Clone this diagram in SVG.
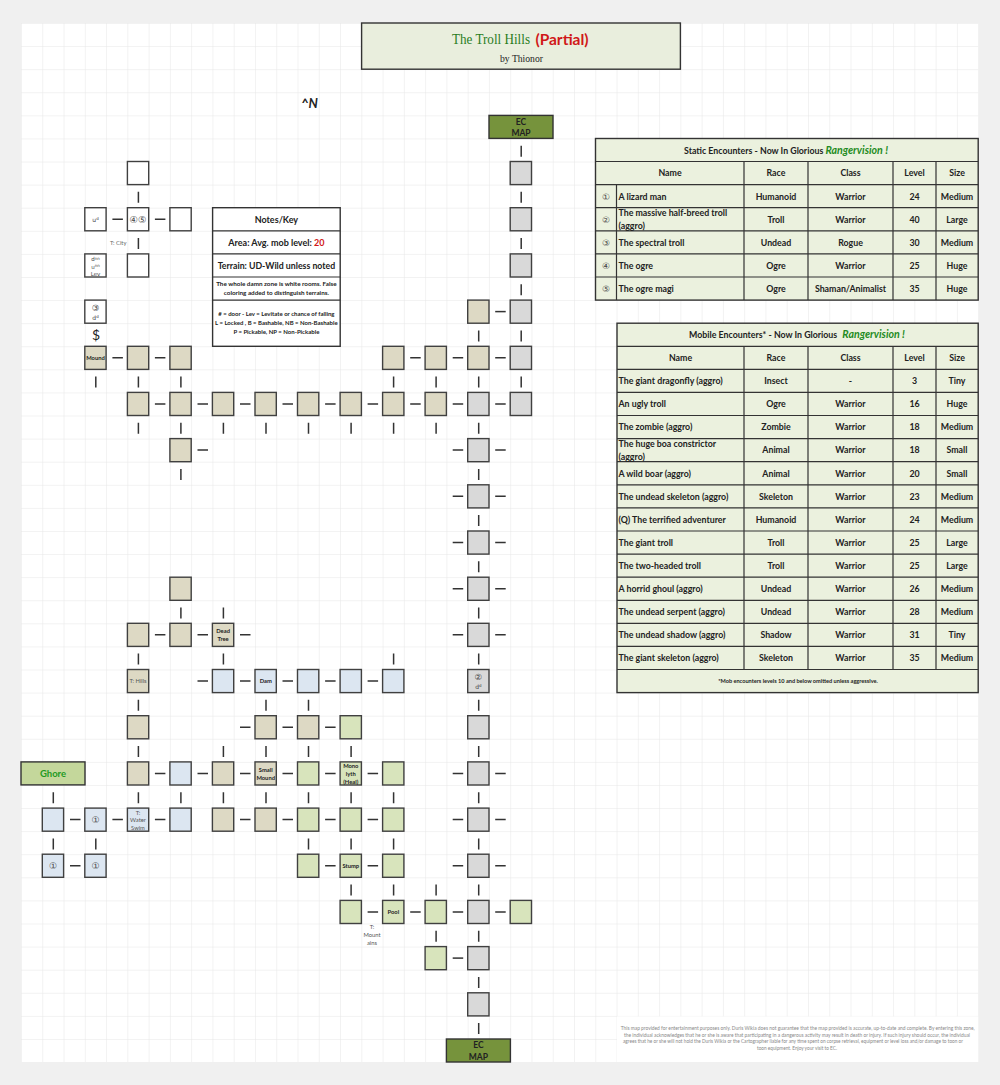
<svg xmlns="http://www.w3.org/2000/svg" width="1000" height="1085" viewBox="0 0 1000 1085">
<style>
text{font-family:Lato,"Liberation Sans","Noto Sans CJK SC",sans-serif;font-weight:700;fill:#222;font-size:8.8px}
.m{text-anchor:middle}
.room{stroke:#404040;stroke-width:1.4}
.w{fill:#fff}.t{fill:#ddd9c4}.g{fill:#d9d9d9}.b{fill:#dce6f1}.v{fill:#d8e4bc}
.ec{fill:#76933c;stroke:#333;stroke-width:1.4}
.gh{fill:#c4d79b;stroke:#333;stroke-width:1.4}
.box{stroke:#333;stroke-width:1.4;fill:#ebf1de}
.nb{stroke:#333;stroke-width:1.4;fill:#fff}
.ln{stroke:#333;stroke-width:1.2;fill:none}
.cn path{stroke:#333;stroke-width:1.5;fill:none}
.rl{font-size:5.8px}
.tl{font-size:5.8px;font-weight:400;fill:#555}
.ci{font-family:"DejaVu Sans","Noto Sans CJK SC",sans-serif;font-weight:400;fill:#444}
.sp{font-size:5.5px}
.hd{font-family:"Liberation Serif",serif;font-weight:400}
.rv{font-style:italic;fill:#228b22;font-size:10.6px}
.red{fill:#d01818}
.fine{font-size:5px;font-weight:400;fill:#888}
</style>
<defs>
<pattern id="grid" patternUnits="userSpaceOnUse" x="21" y="23" width="21.27" height="23.09"><path d="M21.27 0H0V23.09" fill="none" stroke="#e6e6e6" stroke-width="1"/></pattern>
</defs>
<rect width="1000" height="1085" fill="#f0f0f0"/>
<rect x="21" y="23" width="957.2" height="1039" fill="#fff"/>
<rect x="21" y="23" width="957.2" height="1039" fill="url(#grid)"/>
<rect x="617" y="1016.5" width="361.2" height="45.5" fill="#fff"/>

<g id="connectors" class="cn">
<path d="M112.4 219.2h10.5M154.9 219.2h10.5"/>
<path d="M495.2 311.6h10.5"/>
<path d="M112.4 357.8h10.5M154.9 357.8h10.5M410.2 357.8h10.5M452.7 357.8h10.5M495.2 357.8h10.5"/>
<path d="M154.9 403.9h10.5M197.5 403.9h10.5M240 403.9h10.5M282.5 403.9h10.5M325.1 403.9h10.5M367.6 403.9h10.5M410.2 403.9h10.5M452.7 403.9h10.5M495.2 403.9h10.5"/>
<path d="M197.5 450.1h10.5M452.7 450.1h10.5M495.2 450.1h10.5"/>
<path d="M452.7 496.3h10.5M495.2 496.3h10.5"/>
<path d="M452.7 542.5h10.5M495.2 542.5h10.5"/>
<path d="M452.7 588.7h10.5M495.2 588.7h10.5"/>
<path d="M154.9 634.8h10.5M197.5 634.8h10.5M240 634.8h10.5M452.7 634.8h10.5M495.2 634.8h10.5"/>
<path d="M197.5 681h10.5M240 681h10.5M282.5 681h10.5M325.1 681h10.5M367.6 681h10.5"/>
<path d="M240 727.2h10.5M282.5 727.2h10.5M325.1 727.2h10.5"/>
<path d="M154.9 773.4h10.5M197.5 773.4h10.5M240 773.4h10.5M282.5 773.4h10.5M325.1 773.4h10.5M367.6 773.4h10.5M452.7 773.4h10.5M495.2 773.4h10.5"/>
<path d="M70 819.6h10.5M112.4 819.6h10.5M154.9 819.6h10.5M240 819.6h10.5M282.5 819.6h10.5M325.1 819.6h10.5M367.6 819.6h10.5M452.7 819.6h10.5M495.2 819.6h10.5"/>
<path d="M70 865.7h10.5M325.1 865.7h10.5M367.6 865.7h10.5M452.7 865.7h10.5M495.2 865.7h10.5"/>
<path d="M367.6 911.9h10.5M410.2 911.9h10.5M452.7 911.9h10.5M495.2 911.9h10.5"/>
<path d="M452.7 958.1h10.5"/>
<path d="M521.2 145.7v11M138.4 191.8v11M521.2 191.8v11M138.4 238v11M521.2 238v11M521.2 284.2v11M478.7 330.4v11M521.2 330.4v11"/>
<path d="M95.8 376.6v11M138.4 376.6v11M180.9 376.6v11M393.6 376.6v11M436.1 376.6v11M478.7 376.6v11M521.2 376.6v11"/>
<path d="M138.4 422.7v11M180.9 422.7v11M223.4 422.7v11M266 422.7v11M308.5 422.7v11M351.1 422.7v11M393.6 422.7v11M436.1 422.7v11M478.7 422.7v11"/>
<path d="M180.9 468.9v11M478.7 468.9v11M478.7 515.1v11M478.7 561.3v11"/>
<path d="M180.9 607.5v11M223.4 607.5v11M478.7 607.5v11"/>
<path d="M138.4 653.6v11M223.4 653.6v11M393.6 653.6v11M478.7 653.6v11"/>
<path d="M138.4 699.8v11M266 699.8v11M308.5 699.8v11M478.7 699.8v11"/>
<path d="M138.4 746v11M223.4 746v11M266 746v11M308.5 746v11M351.1 746v11M478.7 746v11"/>
<path d="M53.3 792.2v11M138.4 792.2v11M180.9 792.2v11M223.4 792.2v11M266 792.2v11M308.5 792.2v11M351.1 792.2v11M393.6 792.2v11M478.7 792.2v11"/>
<path d="M53.3 838.4v11M95.8 838.4v11M308.5 838.4v11M351.1 838.4v11M393.6 838.4v11M478.7 838.4v11"/>
<path d="M351.1 884.5v11M393.6 884.5v11M436.1 884.5v11M478.7 884.5v11M436.1 930.7v11M478.7 930.7v11M478.7 976.9v11M478.7 1023.1v11"/>
</g>

<g id="title"><rect class="box" x="361.6" y="23" width="318.8" height="46.2" style="fill:#e9eedd"/>
<text class="m hd" x="491" y="44" textLength="78" lengthAdjust="spacingAndGlyphs" style="fill:#2a7d1e;font-size:15px">The Troll Hills</text>
<text class="m" x="562" y="44.5" style="fill:#d01818;font-size:15.5px">(Partial)</text>
<text class="m hd" x="521.5" y="62" textLength="43" lengthAdjust="spacingAndGlyphs" style="font-size:11px">by Thionor</text></g>
<text id="north" x="301" y="108" style="font-size:13px;font-style:italic">^N</text>
<text id="city" class="tl" x="110" y="245" style="fill:#666">T: City</text>
<text id="dollar" class="m" x="96" y="340" style="font-size:14px;font-weight:400">$</text>
<text id="mountains" class="tl m" x="372" y="929">T:<tspan x="372" dy="8">Mount</tspan><tspan x="372" dy="8">ains</tspan></text>

<g id="ec-top"><rect class="ec" x="489" y="115.4" width="64" height="23"/><text class="m" x="521" y="124.5" style="font-size:8.5px">EC</text><text class="m" x="521" y="136" style="font-size:8.5px">MAP</text></g>
<g id="ec-bottom"><rect class="ec" x="446.4" y="1039" width="64" height="23"/><text class="m" x="478.4" y="1048" style="font-size:8.5px">EC</text><text class="m" x="478.4" y="1059.5" style="font-size:8.5px">MAP</text></g>
<g id="ghore"><rect class="gh" x="21" y="761.9" width="64" height="23"/><text class="m" x="53" y="777" style="fill:#1f9a1f;font-size:9.5px">Ghore</text></g>

<g id="n5-6"><rect class="room w" x="127.4" y="161.5" width="21.3" height="23.1"/></g>
<g id="n23-6"><rect class="room g" x="510.2" y="161.5" width="21.3" height="23.1"/></g>
<g id="n3-8"><rect class="room w" x="84.8" y="207.7" width="21.3" height="23.1"/><text class="m ci" x="95.5" y="221.5" style="font-size:6px">u<tspan class="sp" dy="-2" style="font-size:4px">d</tspan></text></g>
<g id="n5-8"><rect class="room w" x="127.4" y="207.7" width="21.3" height="23.1"/><text class="m ci" x="138" y="222.8" style="font-size:9.5px">④⑤</text></g>
<g id="n7-8"><rect class="room w" x="169.9" y="207.7" width="21.3" height="23.1"/></g>
<g id="n23-8"><rect class="room g" x="510.2" y="207.7" width="21.3" height="23.1"/></g>
<g id="n3-10"><rect class="room w" x="84.8" y="253.9" width="21.3" height="23.1"/><text class="m ci" x="95.5" y="261" style="font-size:5.5px">d<tspan dy="-1.5" style="font-size:4px">nn</tspan></text><text class="m ci" x="95.5" y="268.5" style="font-size:5.5px">u<tspan dy="-1.5" style="font-size:4px">nn</tspan></text><text class="m ci" x="95.5" y="276" style="font-size:5.5px">Lev</text></g>
<g id="n5-10"><rect class="room w" x="127.4" y="253.9" width="21.3" height="23.1"/></g>
<g id="n23-10"><rect class="room g" x="510.2" y="253.9" width="21.3" height="23.1"/></g>
<g id="n3-12"><rect class="room w" x="84.8" y="300.1" width="21.3" height="23.1"/><text class="m ci" x="95.5" y="311" style="font-size:8.5px">③</text><text class="m ci" x="95.5" y="319.5" style="font-size:6px">d<tspan dy="-2" style="font-size:4px">d</tspan></text></g>
<g id="n21-12"><rect class="room t" x="467.7" y="300.1" width="21.3" height="23.1"/></g>
<g id="n23-12"><rect class="room g" x="510.2" y="300.1" width="21.3" height="23.1"/></g>
<g id="n3-14"><rect class="room t" x="84.8" y="346.3" width="21.3" height="23.1"/><text class="m rl" x="95.5" y="360">Mound</text></g>
<g id="n5-14"><rect class="room t" x="127.4" y="346.3" width="21.3" height="23.1"/></g>
<g id="n7-14"><rect class="room t" x="169.9" y="346.3" width="21.3" height="23.1"/></g>
<g id="n17-14"><rect class="room t" x="382.6" y="346.3" width="21.3" height="23.1"/></g>
<g id="n19-14"><rect class="room t" x="425.1" y="346.3" width="21.3" height="23.1"/></g>
<g id="n21-14"><rect class="room t" x="467.7" y="346.3" width="21.3" height="23.1"/></g>
<g id="n23-14"><rect class="room g" x="510.2" y="346.3" width="21.3" height="23.1"/></g>
<g id="n5-16"><rect class="room t" x="127.4" y="392.4" width="21.3" height="23.1"/></g>
<g id="n7-16"><rect class="room t" x="169.9" y="392.4" width="21.3" height="23.1"/></g>
<g id="n9-16"><rect class="room t" x="212.4" y="392.4" width="21.3" height="23.1"/></g>
<g id="n11-16"><rect class="room t" x="255" y="392.4" width="21.3" height="23.1"/></g>
<g id="n13-16"><rect class="room t" x="297.5" y="392.4" width="21.3" height="23.1"/></g>
<g id="n15-16"><rect class="room t" x="340.1" y="392.4" width="21.3" height="23.1"/></g>
<g id="n17-16"><rect class="room t" x="382.6" y="392.4" width="21.3" height="23.1"/></g>
<g id="n19-16"><rect class="room t" x="425.1" y="392.4" width="21.3" height="23.1"/></g>
<g id="n21-16"><rect class="room g" x="467.7" y="392.4" width="21.3" height="23.1"/></g>
<g id="n23-16"><rect class="room g" x="510.2" y="392.4" width="21.3" height="23.1"/></g>
<g id="n7-18"><rect class="room t" x="169.9" y="438.6" width="21.3" height="23.1"/></g>
<g id="n21-18"><rect class="room g" x="467.7" y="438.6" width="21.3" height="23.1"/></g>
<g id="n21-20"><rect class="room g" x="467.7" y="484.8" width="21.3" height="23.1"/></g>
<g id="n21-22"><rect class="room g" x="467.7" y="531" width="21.3" height="23.1"/></g>
<g id="n7-24"><rect class="room t" x="169.9" y="577.2" width="21.3" height="23.1"/></g>
<g id="n21-24"><rect class="room g" x="467.7" y="577.2" width="21.3" height="23.1"/></g>
<g id="n5-26"><rect class="room t" x="127.4" y="623.3" width="21.3" height="23.1"/></g>
<g id="n7-26"><rect class="room t" x="169.9" y="623.3" width="21.3" height="23.1"/></g>
<g id="n9-26"><rect class="room t" x="212.4" y="623.3" width="21.3" height="23.1"/><text class="m rl" x="223.1" y="633">Dead</text><text class="m rl" x="223.1" y="641">Tree</text></g>
<g id="n21-26"><rect class="room g" x="467.7" y="623.3" width="21.3" height="23.1"/></g>
<g id="n5-28"><rect class="room t" x="127.4" y="669.5" width="21.3" height="23.1"/><text class="m tl" x="138" y="683">T: Hills</text></g>
<g id="n9-28"><rect class="room b" x="212.4" y="669.5" width="21.3" height="23.1"/></g>
<g id="n11-28"><rect class="room b" x="255" y="669.5" width="21.3" height="23.1"/><text class="m rl" x="265.7" y="683">Dam</text></g>
<g id="n13-28"><rect class="room b" x="297.5" y="669.5" width="21.3" height="23.1"/></g>
<g id="n15-28"><rect class="room b" x="340.1" y="669.5" width="21.3" height="23.1"/></g>
<g id="n17-28"><rect class="room b" x="382.6" y="669.5" width="21.3" height="23.1"/></g>
<g id="n21-28"><rect class="room g" x="467.7" y="669.5" width="21.3" height="23.1"/><text class="m ci" x="478.4" y="680.3" style="font-size:8.5px">②</text><text class="m ci" x="478.4" y="689" style="font-size:6px">d<tspan dy="-2" style="font-size:4px">d</tspan></text></g>
<g id="n5-30"><rect class="room t" x="127.4" y="715.7" width="21.3" height="23.1"/></g>
<g id="n11-30"><rect class="room t" x="255" y="715.7" width="21.3" height="23.1"/></g>
<g id="n13-30"><rect class="room t" x="297.5" y="715.7" width="21.3" height="23.1"/></g>
<g id="n15-30"><rect class="room v" x="340.1" y="715.7" width="21.3" height="23.1"/></g>
<g id="n21-30"><rect class="room g" x="467.7" y="715.7" width="21.3" height="23.1"/></g>
<g id="n5-32"><rect class="room t" x="127.4" y="761.9" width="21.3" height="23.1"/></g>
<g id="n7-32"><rect class="room b" x="169.9" y="761.9" width="21.3" height="23.1"/></g>
<g id="n9-32"><rect class="room t" x="212.4" y="761.9" width="21.3" height="23.1"/></g>
<g id="n11-32"><rect class="room t" x="255" y="761.9" width="21.3" height="23.1"/><text class="m rl" x="265.7" y="771.7">Small</text><text class="m rl" x="265.7" y="779.5">Mound</text></g>
<g id="n13-32"><rect class="room v" x="297.5" y="761.9" width="21.3" height="23.1"/></g>
<g id="n15-32"><rect class="room v" x="340.1" y="761.9" width="21.3" height="23.1"/><text class="m rl" x="350.8" y="768">Mono</text><text class="m rl" x="350.8" y="775.8">lyth</text><text class="m rl" x="350.8" y="783.5">(Heal)</text></g>
<g id="n17-32"><rect class="room v" x="382.6" y="761.9" width="21.3" height="23.1"/></g>
<g id="n21-32"><rect class="room g" x="467.7" y="761.9" width="21.3" height="23.1"/></g>
<g id="n1-34"><rect class="room b" x="42.3" y="808.1" width="21.3" height="23.1"/></g>
<g id="n3-34"><rect class="room b" x="84.8" y="808.1" width="21.3" height="23.1"/><text class="m ci" x="95.5" y="823.2" style="font-size:9px">①</text></g>
<g id="n5-34"><rect class="room b" x="127.4" y="808.1" width="21.3" height="23.1"/><text class="m tl" x="138" y="814.5">T:</text><text class="m tl" x="138" y="822">Water</text><text class="m tl" x="138" y="830">Swim</text></g>
<g id="n7-34"><rect class="room b" x="169.9" y="808.1" width="21.3" height="23.1"/></g>
<g id="n9-34"><rect class="room t" x="212.4" y="808.1" width="21.3" height="23.1"/></g>
<g id="n11-34"><rect class="room t" x="255" y="808.1" width="21.3" height="23.1"/></g>
<g id="n13-34"><rect class="room v" x="297.5" y="808.1" width="21.3" height="23.1"/></g>
<g id="n15-34"><rect class="room v" x="340.1" y="808.1" width="21.3" height="23.1"/></g>
<g id="n17-34"><rect class="room v" x="382.6" y="808.1" width="21.3" height="23.1"/></g>
<g id="n21-34"><rect class="room g" x="467.7" y="808.1" width="21.3" height="23.1"/></g>
<g id="n1-36"><rect class="room b" x="42.3" y="854.2" width="21.3" height="23.1"/><text class="m ci" x="53" y="869.3" style="font-size:9px">①</text></g>
<g id="n3-36"><rect class="room b" x="84.8" y="854.2" width="21.3" height="23.1"/><text class="m ci" x="95.5" y="869.3" style="font-size:9px">①</text></g>
<g id="n13-36"><rect class="room v" x="297.5" y="854.2" width="21.3" height="23.1"/></g>
<g id="n15-36"><rect class="room v" x="340.1" y="854.2" width="21.3" height="23.1"/><text class="m rl" x="350.8" y="868">Stump</text></g>
<g id="n17-36"><rect class="room v" x="382.6" y="854.2" width="21.3" height="23.1"/></g>
<g id="n21-36"><rect class="room g" x="467.7" y="854.2" width="21.3" height="23.1"/></g>
<g id="n15-38"><rect class="room v" x="340.1" y="900.4" width="21.3" height="23.1"/></g>
<g id="n17-38"><rect class="room v" x="382.6" y="900.4" width="21.3" height="23.1"/><text class="m rl" x="393.3" y="914">Pool</text></g>
<g id="n19-38"><rect class="room v" x="425.1" y="900.4" width="21.3" height="23.1"/></g>
<g id="n21-38"><rect class="room g" x="467.7" y="900.4" width="21.3" height="23.1"/></g>
<g id="n23-38"><rect class="room v" x="510.2" y="900.4" width="21.3" height="23.1"/></g>
<g id="n19-40"><rect class="room v" x="425.1" y="946.6" width="21.3" height="23.1"/></g>
<g id="n21-40"><rect class="room g" x="467.7" y="946.6" width="21.3" height="23.1"/></g>
<g id="n21-42"><rect class="room g" x="467.7" y="992.8" width="21.3" height="23.1"/></g>

<g id="notes">
<rect class="nb" x="212.6" y="207.7" width="127.6" height="138.6"/>
<path class="ln" d="M212.6 230.8H340.2M212.6 253.9H340.2M212.6 277H340.2M212.6 300.1H340.2"/>
<text class="m" x="276.4" y="222.6" style="font-size:9px">Notes/Key</text>
<text class="m" x="276.4" y="245.7" style="font-size:9px">Area: Avg. mob level: <tspan class="red">20</tspan></text>
<text class="m" x="276.4" y="268.8" style="font-size:8.75px">Terrain: UD-Wild unless noted</text>
<text class="m" x="276.4" y="286" style="font-size:6.3px">The whole damn zone is white rooms. False</text>
<text class="m" x="276.4" y="295" style="font-size:6.3px">coloring added to distinguish terrains.</text>
<text class="m" x="276.4" y="316.2" style="font-size:6px"># = door - Lev = Levitate or chance of falling</text>
<text class="m" x="276.4" y="325.2" style="font-size:6px">L = Locked , B = Bashable, NB = Non-Bashable</text>
<text class="m" x="276.4" y="334.2" style="font-size:6px">P = Pickable, NP = Non-Pickable</text>
</g>

<g id="static-table">
<rect class="box" x="595.5" y="138.5" width="382.7" height="161.6"/>
<path class="ln" d="M595.5 161.5H978.2M595.5 184.6H978.2M595.5 207.7H978.2M595.5 230.8H978.2M595.5 253.9H978.2M595.5 277H978.2M616.5 184.6V300.1M744 161.5V300.1M808 161.5V300.1M893 161.5V300.1M936 161.5V300.1"/>
<text class="m" x="786" y="153.6">Static Encounters - Now In Glorious <tspan class="rv">Rangervision !</tspan></text>
<text class="m" x="670" y="176.4">Name</text><text class="m" x="776" y="176.4">Race</text><text class="m" x="850.5" y="176.4">Class</text><text class="m" x="914.5" y="176.4">Level</text><text class="m" x="957" y="176.4">Size</text>
<text class="m ci" x="606" y="199.7">①</text><text x="618.5" y="199.5">A lizard man</text><text class="m" x="776" y="199.5">Humanoid</text><text class="m" x="850.5" y="199.5">Warrior</text><text class="m" x="914.5" y="199.5">24</text><text class="m" x="957" y="199.5">Medium</text>
<text class="m ci" x="606" y="222.7">②</text><text x="618.5" y="216.3">The massive half-breed troll</text><text x="618.5" y="229.3">(aggro)</text><text class="m" x="776" y="222.6">Troll</text><text class="m" x="850.5" y="222.6">Warrior</text><text class="m" x="914.5" y="222.6">40</text><text class="m" x="957" y="222.6">Large</text>
<text class="m ci" x="606" y="245.8">③</text><text x="618.5" y="245.6">The spectral troll</text><text class="m" x="776" y="245.6">Undead</text><text class="m" x="850.5" y="245.6">Rogue</text><text class="m" x="914.5" y="245.6">30</text><text class="m" x="957" y="245.6">Medium</text>
<text class="m ci" x="606" y="268.9">④</text><text x="618.5" y="268.7">The ogre</text><text class="m" x="776" y="268.7">Ogre</text><text class="m" x="850.5" y="268.7">Warrior</text><text class="m" x="914.5" y="268.7">25</text><text class="m" x="957" y="268.7">Huge</text>
<text class="m ci" x="606" y="292">⑤</text><text x="618.5" y="291.8">The ogre magi</text><text class="m" x="776" y="291.8">Ogre</text><text class="m" x="850.5" y="291.8">Shaman/Animalist</text><text class="m" x="914.5" y="291.8">35</text><text class="m" x="957" y="291.8">Huge</text>
</g>

<g id="mobile-table">
<rect class="box" x="617" y="323.2" width="361.2" height="369.4"/>
<path class="ln" d="M617 346.3H978.2M617 369.4H978.2M617 392.4H978.2M617 415.5H978.2M617 438.6H978.2M617 461.7H978.2M617 484.8H978.2M617 507.9H978.2M617 531H978.2M617 554.1H978.2M617 577.2H978.2M617 600.3H978.2M617 623.3H978.2M617 646.4H978.2M617 669.5H978.2M744 346.3V669.5M808 346.3V669.5M893 346.3V669.5M936 346.3V669.5"/>
<text class="m" x="797" y="338.3">Mobile Encounters* - Now In Glorious <tspan class="rv" dx="3">Rangervision !</tspan></text>
<text class="m" x="680.5" y="361.1">Name</text><text class="m" x="776" y="361.1">Race</text><text class="m" x="850.5" y="361.1">Class</text><text class="m" x="914.5" y="361.1">Level</text><text class="m" x="957" y="361.1">Size</text>
<text x="618.5" y="384.2">The giant dragonfly (aggro)</text><text class="m" x="776" y="384.2">Insect</text><text class="m" x="850.5" y="384.2">-</text><text class="m" x="914.5" y="384.2">3</text><text class="m" x="957" y="384.2">Tiny</text>
<text x="618.5" y="407.3">An ugly troll</text><text class="m" x="776" y="407.3">Ogre</text><text class="m" x="850.5" y="407.3">Warrior</text><text class="m" x="914.5" y="407.3">16</text><text class="m" x="957" y="407.3">Huge</text>
<text x="618.5" y="430.3">The zombie (aggro)</text><text class="m" x="776" y="430.3">Zombie</text><text class="m" x="850.5" y="430.3">Warrior</text><text class="m" x="914.5" y="430.3">18</text><text class="m" x="957" y="430.3">Medium</text>
<text x="618.5" y="447.3">The huge boa constrictor</text><text x="618.5" y="460.3">(aggro)</text><text class="m" x="776" y="453.4">Animal</text><text class="m" x="850.5" y="453.4">Warrior</text><text class="m" x="914.5" y="453.4">18</text><text class="m" x="957" y="453.4">Small</text>
<text x="618.5" y="476.5">A wild boar (aggro)</text><text class="m" x="776" y="476.5">Animal</text><text class="m" x="850.5" y="476.5">Warrior</text><text class="m" x="914.5" y="476.5">20</text><text class="m" x="957" y="476.5">Small</text>
<text x="618.5" y="499.6">The undead skeleton (aggro)</text><text class="m" x="776" y="499.6">Skeleton</text><text class="m" x="850.5" y="499.6">Warrior</text><text class="m" x="914.5" y="499.6">23</text><text class="m" x="957" y="499.6">Medium</text>
<text x="618.5" y="522.7">(Q) The terrified adventurer</text><text class="m" x="776" y="522.7">Humanoid</text><text class="m" x="850.5" y="522.7">Warrior</text><text class="m" x="914.5" y="522.7">24</text><text class="m" x="957" y="522.7">Medium</text>
<text x="618.5" y="545.8">The giant troll</text><text class="m" x="776" y="545.8">Troll</text><text class="m" x="850.5" y="545.8">Warrior</text><text class="m" x="914.5" y="545.8">25</text><text class="m" x="957" y="545.8">Large</text>
<text x="618.5" y="568.9">The two-headed troll</text><text class="m" x="776" y="568.9">Troll</text><text class="m" x="850.5" y="568.9">Warrior</text><text class="m" x="914.5" y="568.9">25</text><text class="m" x="957" y="568.9">Large</text>
<text x="618.5" y="592">A horrid ghoul (aggro)</text><text class="m" x="776" y="592">Undead</text><text class="m" x="850.5" y="592">Warrior</text><text class="m" x="914.5" y="592">26</text><text class="m" x="957" y="592">Medium</text>
<text x="618.5" y="615.1">The undead serpent (aggro)</text><text class="m" x="776" y="615.1">Undead</text><text class="m" x="850.5" y="615.1">Warrior</text><text class="m" x="914.5" y="615.1">28</text><text class="m" x="957" y="615.1">Medium</text>
<text x="618.5" y="638.1">The undead shadow (aggro)</text><text class="m" x="776" y="638.1">Shadow</text><text class="m" x="850.5" y="638.1">Warrior</text><text class="m" x="914.5" y="638.1">31</text><text class="m" x="957" y="638.1">Tiny</text>
<text x="618.5" y="661.2">The giant skeleton (aggro)</text><text class="m" x="776" y="661.2">Skeleton</text><text class="m" x="850.5" y="661.2">Warrior</text><text class="m" x="914.5" y="661.2">35</text><text class="m" x="957" y="661.2">Medium</text>
<text class="m" x="798" y="683.3" style="font-size:5.6px">*Mob encounters levels 10 and below omitted unless aggressive.</text>
</g>

<g id="disclaimer">
<text class="m fine" x="797.7" y="1030" textLength="354" lengthAdjust="spacingAndGlyphs">This map provided for entertainment purposes only. Duris Wikia does not guarantee that the map provided is accurate, up-to-date and complete. By entering this zone,</text>
<text class="m fine" x="797" y="1036.7" textLength="346" lengthAdjust="spacingAndGlyphs">the individual acknowledges that he or she is aware that participating in a dangerous activity may result in death or injury. If such injury should occur, the individual</text>
<text class="m fine" x="793" y="1043.4" textLength="340" lengthAdjust="spacingAndGlyphs">agrees that he or she will not hold the Duris Wikia or the Cartographer liable for any time spent on corpse retrieval, equipment or level loss and/or damage to toon or</text>
<text class="m fine" x="797" y="1050" textLength="80" lengthAdjust="spacingAndGlyphs">toon equipment. Enjoy your visit to EC.</text>
</g>
</svg>
